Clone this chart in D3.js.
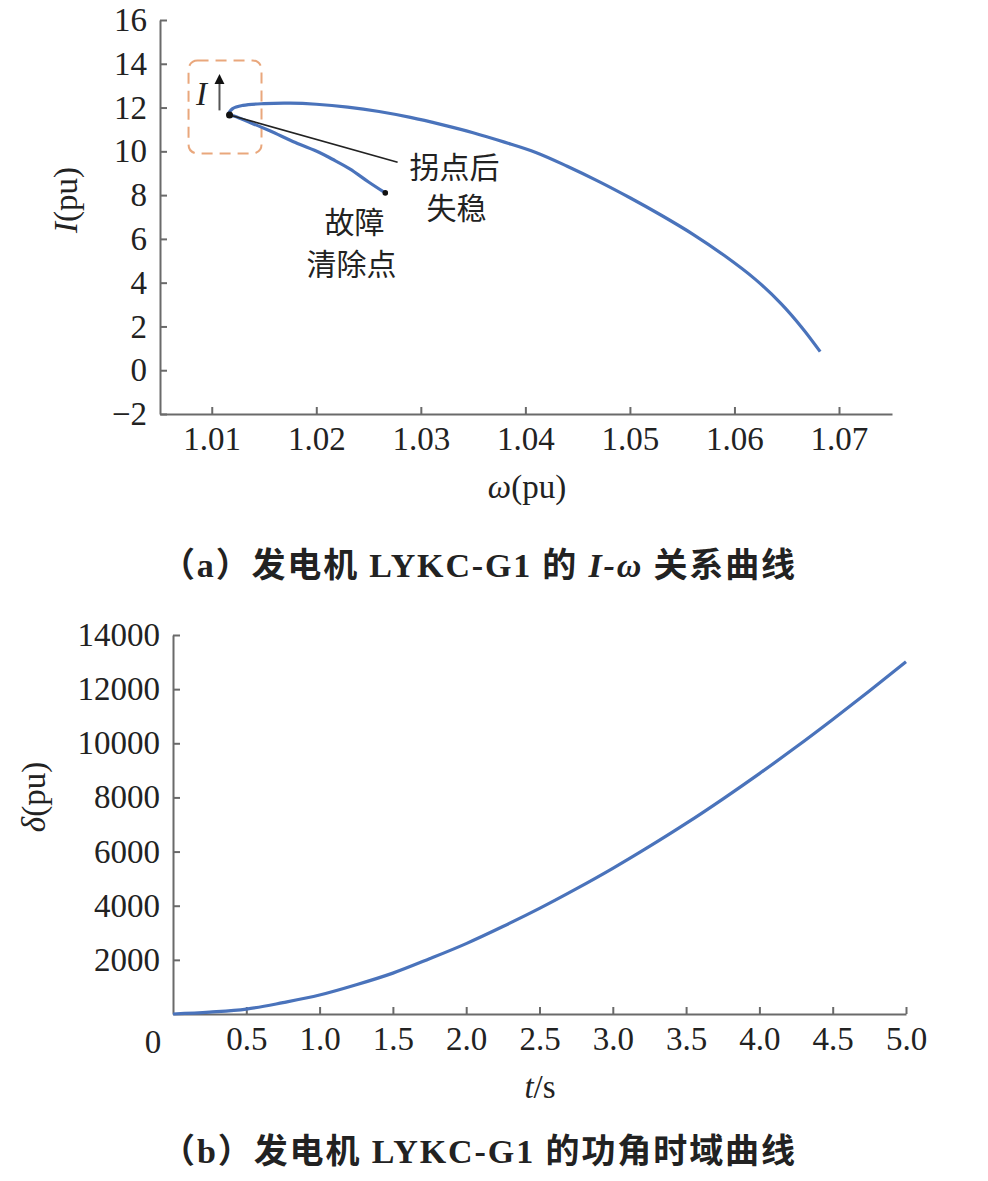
<!DOCTYPE html>
<html>
<head>
<meta charset="utf-8">
<script src="https://cdn.jsdelivr.net/npm/d3@7"></script>
<style>
  html, body { margin: 0; padding: 0; background: #fff; }
  svg { display: block; }
  .tick text { font-family: "Liberation Serif", "Times New Roman", serif; font-size: 33px; fill: #222; }
  .axis path, .axis line { stroke: #6a6a6a; stroke-width: 2px; }
</style>
</head>
<body>
<script>
// ---------- Data (a): I-omega trajectory ----------
// lower branch: fault clearing point -> turning point
const lowerOmega = [1.0266, 1.0250, 1.0232, 1.0215, 1.0203, 1.0180, 1.0155, 1.0135, 1.0122, 1.0116];
const lowerI     = [8.10,   8.60,   9.20,   9.65,   9.95,   10.40,  10.95,  11.35,  11.60,  11.68];
// upper branch: turning point -> end
const upperOmega = [1.0120, 1.0130, 1.0150, 1.0175, 1.0200, 1.0230, 1.0260, 1.0290, 1.0320, 1.0350, 1.0380, 1.0410, 1.0440, 1.0470, 1.0500, 1.0530, 1.0560, 1.0590, 1.0620, 1.0645, 1.0665, 1.0682];
const upperI     = [11.95,  12.10,  12.18,  12.20,  12.15,  12.02,  11.82,  11.55,  11.22,  10.85,  10.42,  9.95,   9.32,   8.63,   7.88,   7.08,   6.22,   5.25,   4.15,   3.02,   1.92,   0.85];
const turnPoint  = [1.0117, 11.66];
const clearPoint = [1.0266, 8.10];
const xTicksA = [1.01, 1.02, 1.03, 1.04, 1.05, 1.06, 1.07];
const yTicksA = [-2, 0, 2, 4, 6, 8, 10, 12, 14, 16];

// ---------- Data (b): power angle vs time ----------
const tValues     = [0, 0.25, 0.5, 0.75, 1.0, 1.25, 1.5, 1.75, 2.0, 2.25, 2.5, 2.75, 3.0, 3.25, 3.5, 3.75, 4.0, 4.25, 4.5, 4.75, 5.0];
const deltaValues = [0, 70, 180, 420, 700, 1080, 1510, 2040, 2600, 3230, 3900, 4620, 5380, 6190, 7040, 7940, 8880, 9860, 10880, 11930, 13010];
const xTicksB = [0.5, 1.0, 1.5, 2.0, 2.5, 3.0, 3.5, 4.0, 4.5, 5.0];
const yTicksB = [2000, 4000, 6000, 8000, 10000, 12000, 14000];

const W = 988, H = 1181;
const svg = d3.select("body").append("svg").attr("width", W).attr("height", H);

const serif = '"Liberation Serif", "Times New Roman", serif';
const cjk = '"Noto Sans CJK SC", "Noto Sans CJK JP", sans-serif';
const blue = "#4a73bb";

// ================= Chart (a) =================
const xA = d3.scaleLinear().domain([1.00505, 1.07507]).range([160, 892]);
const yA = d3.scaleLinear().domain([-2, 16]).range([414, 20]);

svg.append("g").attr("class", "axis").attr("transform", `translate(0,${yA(-2)})`)
  .call(d3.axisBottom(xA).tickValues(xTicksA).tickFormat(d3.format(".2f"))
        .tickSizeInner(-7).tickSizeOuter(0).tickPadding(13));

svg.append("g").attr("class", "axis").attr("transform", `translate(${xA.range()[0]},0)`)
  .call(d3.axisLeft(yA).tickValues(yTicksA).tickFormat(d => d < 0 ? "\u2212" + Math.abs(d) : d)
        .tickSizeInner(-7).tickSizeOuter(0).tickPadding(13));

// annotation box (dashed, orange, rounded)
const bx0 = xA(1.00778), bx1 = xA(1.01476), by0 = yA(14.15), by1 = yA(9.9);
svg.append("rect").attr("x", bx0).attr("y", by0).attr("width", bx1 - bx0).attr("height", by1 - by0)
  .attr("rx", 9).attr("ry", 9).attr("fill", "none").attr("stroke", "#e9a77c")
  .attr("stroke-width", 2).attr("stroke-dasharray", "11,7");

// trajectory
const pathPts = lowerOmega.map((w, i) => [w, lowerI[i]])
  .concat(upperOmega.map((w, i) => [w, upperI[i]]));
const lineA = d3.line().x(d => xA(d[0])).y(d => yA(d[1])).curve(d3.curveCatmullRom.alpha(0.5));
svg.append("path").datum(pathPts).attr("d", lineA)
  .attr("fill", "none").attr("stroke", blue).attr("stroke-width", 3.2).attr("stroke-linejoin", "round");

// leader line
svg.append("line")
  .attr("x1", xA(turnPoint[0])).attr("y1", yA(turnPoint[1]))
  .attr("x2", xA(1.02778)).attr("y2", yA(9.5))
  .attr("stroke", "#222").attr("stroke-width", 1.6);

// points
[turnPoint, clearPoint].forEach(p => {
  svg.append("circle").attr("cx", xA(p[0])).attr("cy", yA(p[1])).attr("r", p === turnPoint ? 3.5 : 2.8).attr("fill", "#111");
});

// arrow with "I"
const defs = svg.append("defs");
defs.append("marker").attr("id", "ah").attr("viewBox", "0 0 10 10").attr("refX", 5).attr("refY", 5)
  .attr("markerWidth", 5).attr("markerHeight", 6).attr("orient", "auto")
  .append("path").attr("d", "M0,0 L10,5 L0,10 z").attr("fill", "#111");
svg.append("line")
  .attr("x1", xA(1.01074)).attr("y1", yA(11.87)).attr("x2", xA(1.01074)).attr("y2", yA(13.3))
  .attr("stroke", "#555").attr("stroke-width", 2).attr("marker-end", "url(#ah)");
svg.append("text").attr("x", xA(1.00902)).attr("y", yA(12.6) + 11)
  .attr("text-anchor", "middle").attr("font-family", serif).attr("font-style", "italic")
  .attr("font-size", 33).attr("fill", "#222").text("I");

// annotation texts
const annot = [
  ["拐点后", 1.03323, 9.30],
  ["失稳", 1.03342, 7.40],
  ["故障", 1.02366, 6.78],
  ["清除点", 1.02337, 4.86]
];
annot.forEach(a => {
  svg.append("text").attr("x", xA(a[1])).attr("y", yA(a[2]) + 11)
    .attr("text-anchor", "middle").attr("font-family", cjk).attr("font-size", 30)
    .attr("fill", "#222").text(a[0]);
});

// axis labels (a)
const xlabA = svg.append("text").attr("x", 527).attr("y", 498).attr("text-anchor", "middle")
  .attr("font-family", serif).attr("font-size", 33).attr("fill", "#222");
xlabA.append("tspan").attr("font-style", "italic").text("ω");
xlabA.append("tspan").text("(pu)");

const ylabA = svg.append("text").attr("transform", "translate(77,200) rotate(-90)").attr("text-anchor", "middle")
  .attr("font-family", serif).attr("font-size", 33).attr("fill", "#222");
ylabA.append("tspan").attr("font-style", "italic").text("I");
ylabA.append("tspan").text("(pu)");

// caption (a)
const capA = svg.append("text").attr("x", 161).attr("y", 577)
  .attr("font-family", `"Liberation Serif", ${cjk}`).attr("font-size", 34).attr("font-weight", "bold")
  .attr("fill", "#222").attr("textLength", 634).attr("lengthAdjust", "spacing");
capA.append("tspan").text("（a）发电机 LYKC-G1 的 ");
capA.append("tspan").attr("font-style", "italic").text("I-ω");
capA.append("tspan").text(" 关系曲线");

// ================= Chart (b) =================
const xB = d3.scaleLinear().domain([0, 5]).range([173, 906]);
const yB = d3.scaleLinear().domain([0, 14000]).range([1014, 635]);

svg.append("g").attr("class", "axis").attr("transform", `translate(0,${yB(0)})`)
  .call(d3.axisBottom(xB).tickValues(xTicksB).tickFormat(d3.format(".1f"))
        .tickSizeInner(-7).tickSizeOuter(0).tickPadding(13));

svg.append("g").attr("class", "axis").attr("transform", `translate(${xB(0)},0)`)
  .call(d3.axisLeft(yB).tickValues(yTicksB).tickFormat(d3.format("d"))
        .tickSizeInner(-7).tickSizeOuter(0).tickPadding(13));

// shared origin label "0"
svg.append("text").attr("x", xB(0) - 20).attr("y", yB(0) + 39).attr("text-anchor", "middle")
  .attr("font-family", serif).attr("font-size", 33).attr("fill", "#222").text("0");

const lineB = d3.line().x((d, i) => xB(tValues[i])).y(d => yB(d)).curve(d3.curveMonotoneX);
svg.append("path").datum(deltaValues).attr("d", lineB)
  .attr("fill", "none").attr("stroke", blue).attr("stroke-width", 3.2);

const xlabB = svg.append("text").attr("x", 540).attr("y", 1098).attr("text-anchor", "middle")
  .attr("font-family", serif).attr("font-size", 33).attr("fill", "#222");
xlabB.append("tspan").attr("font-style", "italic").text("t");
xlabB.append("tspan").text("/s");

const ylabB = svg.append("text").attr("transform", "translate(45,797) rotate(-90)").attr("text-anchor", "middle")
  .attr("font-family", serif).attr("font-size", 33).attr("fill", "#222");
ylabB.append("tspan").attr("font-style", "italic").text("δ");
ylabB.append("tspan").text("(pu)");

const capB = svg.append("text").attr("x", 161).attr("y", 1163)
  .attr("font-family", `"Liberation Serif", ${cjk}`).attr("font-size", 34).attr("font-weight", "bold")
  .attr("fill", "#222").attr("textLength", 634).attr("lengthAdjust", "spacing");
capB.text("（b）发电机 LYKC-G1 的功角时域曲线");
</script>
</body>
</html>
